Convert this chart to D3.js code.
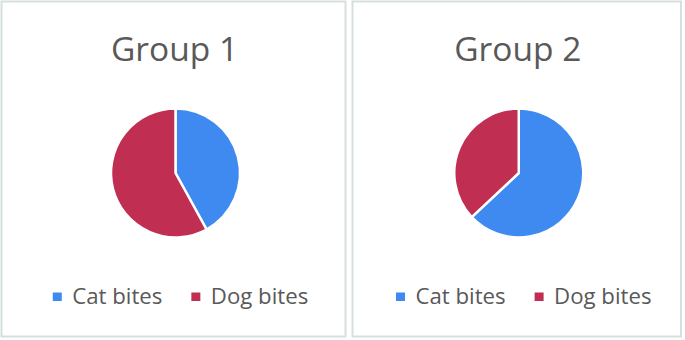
<!DOCTYPE html>
<html lang="en">
<head>
    <meta charset="UTF-8">
    <title>Cat and dog bites</title>
    <script src="https://d3js.org/d3.v7.min.js"></script>
    <style>
        body { margin: 0; background: #fff; }
        text { font-family: "Open Sans", sans-serif; fill: #595959; }
    </style>
</head>
<body>
    <svg id="chart" width="685" height="340"></svg>
    <script>
        const groups = ["Group 1", "Group 2"];
        const categories = ["Cat bites", "Dog bites"];
        const catValues = [42, 63];
        const dogValues = [58, 37];
        const colors = ["#3e8af0", "#c02f52"];

        const svg = d3.select("#chart");
        const panels = [{x: 1.5, w: 344}, {x: 352.5, w: 328.5}];

        const color = d3.scaleOrdinal().domain(categories).range(colors);
        const pie = d3.pie().sort(null).value(d => d.value);
        const arc = d3.arc().innerRadius(0).outerRadius(64.5);

        groups.forEach((name, i) => {
            const p = panels[i];
            const cx = p.x + p.w / 2;
            const g = svg.append("g");

            g.append("rect")
                .attr("x", p.x).attr("y", 1.5)
                .attr("width", p.w).attr("height", 335)
                .attr("fill", "#fff")
                .attr("stroke", "#d6e0db")
                .attr("stroke-width", 2);

            g.append("text")
                .attr("x", cx + 1)
                .attr("y", 61)
                .attr("text-anchor", "middle")
                .style("font-size", "33.5px")
                .text(name);

            const values = [
                {cat: categories[0], value: catValues[i]},
                {cat: categories[1], value: dogValues[i]}
            ];

            g.append("g")
                .attr("transform", `translate(${cx + 2},173)`)
                .selectAll("path")
                .data(pie(values))
                .enter()
                .append("path")
                    .attr("d", arc)
                    .attr("fill", d => color(d.data.cat))
                    .attr("stroke", "#fff")
                    .attr("stroke-width", 2.5)
                    .attr("stroke-linejoin", "round");

            // legend, centred under the pie
            const leg = g.append("g");
            let x = 0;
            categories.forEach((c, j) => {
                if (j > 0) x += 29;
                leg.append("rect")
                    .attr("x", x).attr("y", -11.5)
                    .attr("width", 9).attr("height", 8.5)
                    .attr("fill", color(c));
                const t = leg.append("text")
                    .attr("x", x + 19.5)
                    .attr("y", 0)
                    .style("font-size", "22.2px")
                    .text(c);
                x += 19.5 + t.node().getComputedTextLength();
            });
            leg.attr("transform", `translate(${cx + 7 - x / 2},304)`);
        });
    </script>
</body>
</html>
